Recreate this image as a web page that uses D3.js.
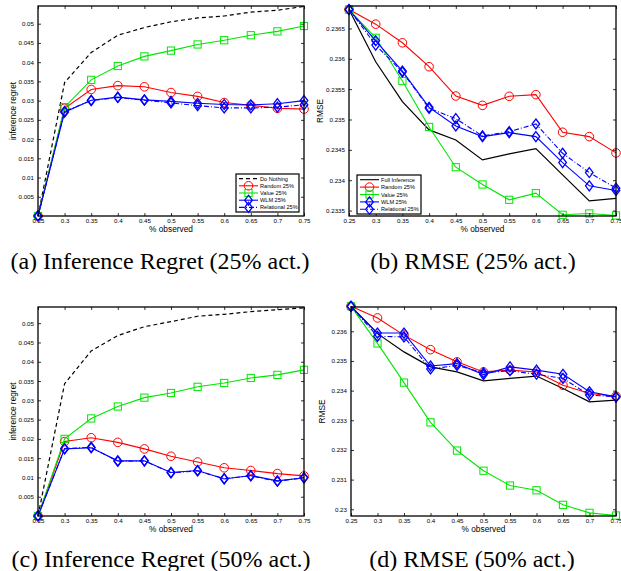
<!DOCTYPE html>
<html>
<head>
<meta charset="utf-8">
<script src="https://cdn.jsdelivr.net/npm/d3@7"></script>
<style>
body { margin: 0; background: #fff; }
svg { display: block; }
.tick text { font-family: "Liberation Sans", Arial, sans-serif; }
</style>
</head>
<body>
<div id="chart"></div>
<script>
const xObserved = [0.25, 0.3, 0.35, 0.4, 0.45, 0.5, 0.55, 0.6, 0.65, 0.7, 0.75];

// (a) inference regret, 25% act.
const regret25DoNothing = [0, 0.0347, 0.0425, 0.047, 0.049, 0.0505, 0.0515, 0.052, 0.053, 0.0535, 0.0545];
const regret25Random = [0, 0.028, 0.0329, 0.0339, 0.0336, 0.0321, 0.0311, 0.0295, 0.0288, 0.028, 0.0278];
const regret25Value = [0, 0.0283, 0.0354, 0.039, 0.0415, 0.043, 0.0446, 0.0457, 0.047, 0.048, 0.0494];
const regret25WLM = [0, 0.027, 0.0301, 0.0309, 0.0302, 0.0298, 0.0293, 0.029, 0.0289, 0.0292, 0.03];
const regret25Relational = [0, 0.0272, 0.03, 0.0308, 0.0301, 0.0294, 0.0287, 0.0281, 0.0281, 0.0283, 0.0289];

// (b) RMSE, 25% act.
const rmse25Full = [0.236812, 0.235952, 0.235294, 0.234828, 0.234663, 0.234334, 0.234433, 0.23452, 0.234087, 0.23366, 0.2337];
const rmse25Random = [0.236812, 0.236571, 0.236264, 0.23587, 0.235387, 0.235233, 0.235382, 0.23541, 0.23479, 0.234718, 0.23445];
const rmse25Value = [0.236812, 0.236346, 0.235634, 0.234877, 0.234214, 0.233929, 0.233677, 0.233786, 0.23343, 0.233452, 0.233419];
const rmse25WLM = [0.236812, 0.236297, 0.235798, 0.2352, 0.234893, 0.234718, 0.234784, 0.234718, 0.23429, 0.233907, 0.23383];
const rmse25Relational = [0.236812, 0.236226, 0.235782, 0.235184, 0.235014, 0.234729, 0.2348, 0.234926, 0.234444, 0.234126, 0.233868];

// (c) inference regret, 50% act.
const regret50DoNothing = [0, 0.0343, 0.0428, 0.0468, 0.0491, 0.0504, 0.0518, 0.0523, 0.053, 0.0535, 0.054];
const regret50Random = [0, 0.0193, 0.0203, 0.0191, 0.0174, 0.0155, 0.014, 0.0125, 0.0118, 0.011, 0.0104];
const regret50Value = [0, 0.02, 0.0253, 0.0284, 0.0307, 0.0319, 0.0335, 0.0345, 0.0358, 0.0366, 0.0379];
const regret50WLM = [0, 0.0174, 0.0177, 0.0143, 0.0143, 0.0113, 0.0118, 0.0096, 0.0105, 0.0091, 0.0099];
const regret50Relational = [0, 0.0175, 0.0178, 0.0142, 0.0143, 0.0112, 0.0117, 0.0097, 0.0104, 0.009, 0.0099];

// (d) RMSE, 50% act.
const rmse50Full = [0.236841, 0.23592, 0.235305, 0.2348, 0.23463, 0.23433, 0.23441, 0.23449, 0.23407, 0.23362, 0.23368];
const rmse50Random = [0.236841, 0.23645, 0.23587, 0.23538, 0.23497, 0.23463, 0.23469, 0.23463, 0.23418, 0.2339, 0.23381];
const rmse50Value = [0.236841, 0.23559, 0.23427, 0.23293, 0.23198, 0.2313, 0.2308, 0.23064, 0.23015, 0.22988, 0.22979];
const rmse50WLM = [0.236841, 0.23594, 0.23594, 0.23483, 0.23491, 0.23454, 0.2348, 0.23469, 0.23455, 0.23396, 0.23379];
const rmse50Relational = [0.236841, 0.23583, 0.23581, 0.23473, 0.23485, 0.2346, 0.23467, 0.23455, 0.23441, 0.23385, 0.23379];

const regretTicks = [0.005, 0.01, 0.015, 0.02, 0.025, 0.03, 0.035, 0.04, 0.045, 0.05];
const rmse25Ticks = [0.2335, 0.234, 0.2345, 0.235, 0.2355, 0.236, 0.2365];
const rmse50Ticks = [0.23, 0.231, 0.232, 0.233, 0.234, 0.235, 0.236];
const captions = ['(a) Inference Regret (25% act.)', '(b) RMSE (25% act.)',
                  '(c) Inference Regret (50% act.)', '(d) RMSE (50% act.)'];

const styles = {
    doNothing: {name: 'Do Nothing', color: '#000', dash: '4,3', marker: null},
    full: {name: 'Full Inference', color: '#000', dash: null, marker: null},
    random: {name: 'Random 25%', color: '#ff0000', dash: null, marker: 'circle'},
    value: {name: 'Value 25%', color: '#00e600', dash: null, marker: 'square'},
    wlm: {name: 'WLM 25%', color: '#0000ff', dash: null, marker: 'diamond'},
    relational: {name: 'Relational 25%', color: '#0000ff', dash: '5,2,1,2', marker: 'diamond'}
};

const panels = [
    {left: 38, top: 6, right: 304, bottom: 216, yDomain: [0, 0.0546], yTicks: regretTicks, yFmt: d3.format('.3~f'),
     ylabel: 'inference regret', caption: captions[0], capX: 160, capY: 269,
     series: [['doNothing', regret25DoNothing], ['random', regret25Random], ['value', regret25Value],
              ['wlm', regret25WLM], ['relational', regret25Relational]],
     legend: {x: 236, y: 174, w: 63, h: 38}},
    {left: 349, top: 6, right: 616, bottom: 216, yDomain: [0.23341, 0.23687], yTicks: rmse25Ticks, yFmt: d3.format('.4~f'),
     ylabel: 'RMSE', caption: captions[1], capX: 473, capY: 269,
     series: [['full', rmse25Full], ['random', rmse25Random], ['value', rmse25Value],
              ['wlm', rmse25WLM], ['relational', rmse25Relational]],
     legend: {x: 357, y: 175, w: 64, h: 39}},
    {left: 38, top: 307, right: 304, bottom: 516, yDomain: [0, 0.0542], yTicks: regretTicks, yFmt: d3.format('.3~f'),
     ylabel: 'inference regret', caption: captions[2], capX: 161, capY: 567,
     series: [['doNothing', regret50DoNothing], ['random', regret50Random], ['value', regret50Value],
              ['wlm', regret50WLM], ['relational', regret50Relational]],
     legend: null},
    {left: 351, top: 307, right: 616, bottom: 516, yDomain: [0.229774, 0.236818], yTicks: rmse50Ticks, yFmt: d3.format('.3~f'),
     ylabel: 'RMSE', caption: captions[3], capX: 472, capY: 567,
     series: [['full', rmse50Full], ['random', rmse50Random], ['value', rmse50Value],
              ['wlm', rmse50WLM], ['relational', rmse50Relational]],
     legend: null}
];

const svg = d3.select('#chart').append('svg')
    .attr('width', 621)
    .attr('height', 571)
    .style('font-family', '"Liberation Sans", Arial, sans-serif');

function drawMarker(g, type, x, y, color) {
    if (type === 'circle') {
        g.append('circle').attr('cx', x).attr('cy', y).attr('r', 4.3)
            .attr('fill', 'none').attr('stroke', color).attr('stroke-width', 1);
    } else if (type === 'square') {
        g.append('rect').attr('x', x - 3.6).attr('y', y - 3.6).attr('width', 7.2).attr('height', 7.2)
            .attr('fill', 'none').attr('stroke', color).attr('stroke-width', 1);
    } else if (type === 'diamond') {
        g.append('path').attr('d', `M${x},${y - 5}L${x + 3.8},${y}L${x},${y + 5}L${x - 3.8},${y}Z`)
            .attr('fill', 'none').attr('stroke', color).attr('stroke-width', 1.3);
    }
}

function drawPanel(p) {
    let g = svg.append('g');
    let x = d3.scaleLinear().domain([0.25, 0.75]).range([p.left, p.right]);
    let y = d3.scaleLinear().domain(p.yDomain).range([p.bottom, p.top]);

    // series
    let line = d3.line().x((d, i) => x(xObserved[i])).y(d => y(d));
    p.series.forEach(([key, vals]) => {
        let s = styles[key];
        g.append('path')
            .attr('d', line(vals))
            .attr('fill', 'none')
            .attr('stroke', s.color)
            .attr('stroke-width', key === 'doNothing' || key === 'full' ? 1.2 : 1.1)
            .attr('stroke-dasharray', s.dash);
        if (s.marker) {
            vals.forEach((v, i) => drawMarker(g, s.marker, x(xObserved[i]), y(v), s.color));
        }
    });

    // axes with inward ticks, matlab style box
    let axB = g.append('g').attr('transform', `translate(0,${p.bottom})`)
        .call(d3.axisBottom(x).tickValues(xObserved).tickSize(-3).tickPadding(2.5).tickFormat(d3.format('~g')));
    let axT = g.append('g').attr('transform', `translate(0,${p.top})`)
        .call(d3.axisTop(x).tickValues(xObserved).tickSize(-3).tickFormat(''));
    let axL = g.append('g').attr('transform', `translate(${p.left},0)`)
        .call(d3.axisLeft(y).tickValues(p.yTicks).tickSize(-3).tickPadding(4).tickFormat(p.yFmt));
    let axR = g.append('g').attr('transform', `translate(${p.right},0)`)
        .call(d3.axisRight(y).tickValues(p.yTicks).tickSize(-3).tickFormat(''));
    [axB, axT, axL, axR].forEach(a => {
        a.select('.domain').remove();
        a.selectAll('.tick line').attr('stroke', '#000').attr('stroke-width', 0.8);
        a.selectAll('.tick text').attr('font-size', 6.2).attr('fill', '#000');
    });
    g.append('rect')
        .attr('x', p.left).attr('y', p.top)
        .attr('width', p.right - p.left).attr('height', p.bottom - p.top)
        .attr('fill', 'none').attr('stroke', '#000').attr('stroke-width', 1.3);

    // axis labels
    g.append('text')
        .attr('x', (p.left + p.right) / 2).attr('y', p.bottom + 16)
        .attr('text-anchor', 'middle').attr('font-size', 8.3)
        .text('% observed');
    let lx = p.ylabel === 'RMSE' ? p.left - 26 : p.left - 22;
    g.append('text')
        .attr('transform', `translate(${lx},${(p.top + p.bottom) / 2}) rotate(-90)`)
        .attr('text-anchor', 'middle').attr('font-size', 8.3)
        .text(p.ylabel);

    // caption
    svg.append('text')
        .attr('x', p.capX).attr('y', p.capY)
        .attr('text-anchor', 'middle')
        .attr('font-family', '"Liberation Serif", "Times New Roman", serif')
        .attr('font-size', 24)
        .text(p.caption);

    if (p.legend) drawLegend(g, p);
}

function drawLegend(g, p) {
    let L = p.legend;
    g.append('rect')
        .attr('x', L.x).attr('y', L.y).attr('width', L.w).attr('height', L.h)
        .attr('fill', '#fff').attr('stroke', '#000').attr('stroke-width', 1.2);
    let rowH = (L.h - 2) / p.series.length;
    p.series.forEach(([key], i) => {
        let s = styles[key];
        let cy = L.y + 1 + rowH * (i + 0.5);
        g.append('line')
            .attr('x1', L.x + 3).attr('x2', L.x + 22)
            .attr('y1', cy).attr('y2', cy)
            .attr('stroke', s.color).attr('stroke-width', 1.1)
            .attr('stroke-dasharray', s.dash);
        if (s.marker) drawMarker(g, s.marker, L.x + 12.5, cy, s.color);
        g.append('text')
            .attr('x', L.x + 24).attr('y', cy + 2)
            .attr('font-size', 5.6)
            .text(s.name);
    });
}

panels.forEach(drawPanel);
</script>
</body>
</html>
